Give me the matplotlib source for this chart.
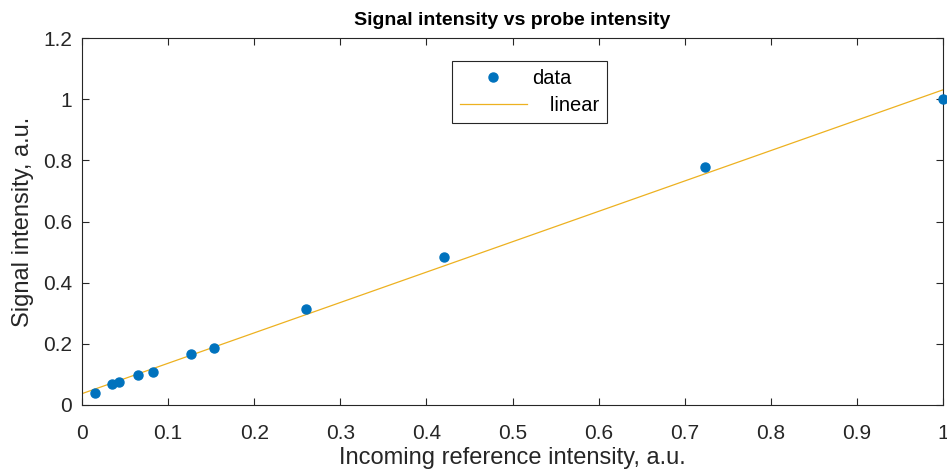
import numpy as np
import matplotlib
matplotlib.use('Agg')
import matplotlib.pyplot as plt

ref_intensity = [0.015, 0.035, 0.043, 0.065, 0.082, 0.127, 0.153, 0.260, 0.420, 0.724, 1.0]
sig_intensity = [0.038, 0.068, 0.075, 0.097, 0.107, 0.166, 0.187, 0.313, 0.485, 0.777, 1.0]
xticks = [0, 0.1, 0.2, 0.3, 0.4, 0.5, 0.6, 0.7, 0.8, 0.9, 1]
xtick_labels = ['0', '0.1', '0.2', '0.3', '0.4', '0.5', '0.6', '0.7', '0.8', '0.9', '1']
yticks = [0, 0.2, 0.4, 0.6, 0.8, 1.0, 1.2]
ytick_labels = ['0', '0.2', '0.4', '0.6', '0.8', '1', '1.2']

plt.rcParams['font.family'] = ['Liberation Sans', 'DejaVu Sans']

fig = plt.figure(figsize=(9.47, 4.74), dpi=100)
ax = fig.add_axes([0.0866, 0.1456, 0.9092, 0.7742])

# linear fit
slope, intercept = np.polyfit(ref_intensity, sig_intensity, 1)
xfit = np.linspace(0, 1, 200)

ax.plot(ref_intensity, sig_intensity, 'o', color='#0072BD', markersize=6.5, label='data',
        clip_on=False, zorder=3)
ax.plot(xfit, slope * xfit + intercept, '-', color='#EDB120', lw=0.9, label='   linear')

ax.set_xlim(0, 1)
ax.set_ylim(0, 1.2)
ax.set_xticks(xticks)
ax.set_xticklabels(xtick_labels)
ax.set_yticks(yticks)
ax.set_yticklabels(ytick_labels)

dark = '#262626'
for s in ax.spines.values():
    s.set_color(dark)
    s.set_linewidth(0.8)
ax.tick_params(direction='in', top=True, right=True, length=5, width=0.8,
               colors=dark, labelsize=15)
ax.tick_params(axis='x', pad=14)
ax.tick_params(axis='y', pad=7)

ax.set_title('Signal intensity vs probe intensity', fontsize=14, fontweight='bold', pad=9.5)
ax.set_xlabel('Incoming reference intensity, a.u.', fontsize=17, color=dark)
ax.set_ylabel('Signal intensity, a.u.', fontsize=17, color=dark)
ax.xaxis.set_label_coords(0.5, -0.115)
ax.yaxis.set_label_coords(-0.0557, 0.5)

leg = ax.legend(loc='upper left', bbox_to_anchor=(0.4297, 0.937), borderaxespad=0,
                fontsize=14.5, fancybox=False, framealpha=1, edgecolor=dark,
                handlelength=3.3, borderpad=0.4, labelspacing=0.38, handletextpad=0.3)
leg.get_frame().set_linewidth(0.8)

fig.savefig('out.png', dpi=100)
